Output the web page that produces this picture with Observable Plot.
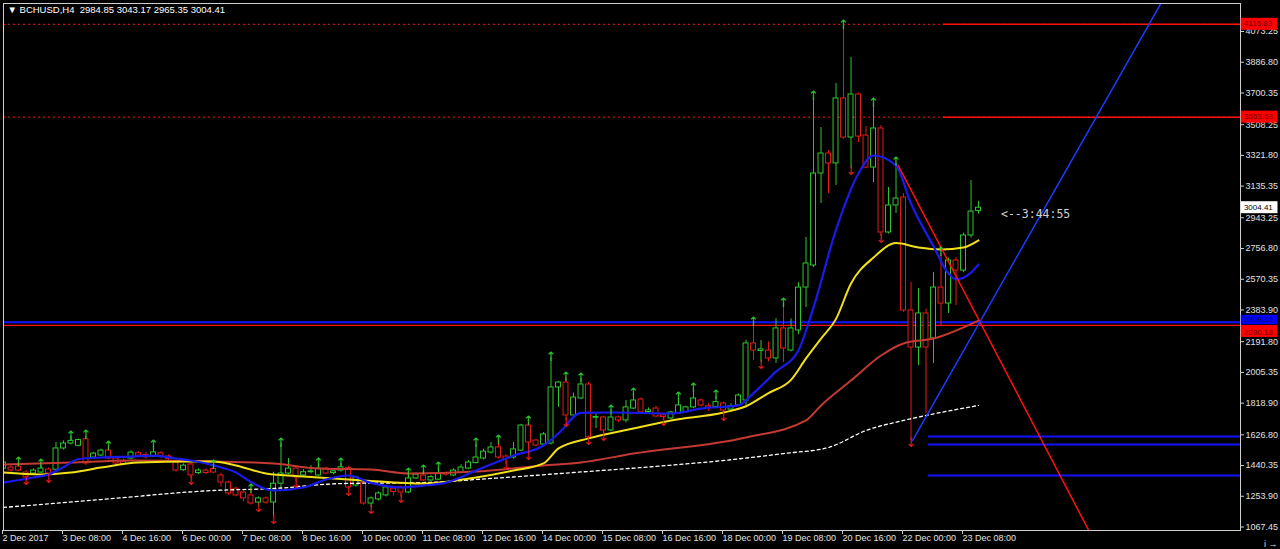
<!DOCTYPE html>
<html><head><meta charset="utf-8">
<script src="https://cdn.jsdelivr.net/npm/d3@7"></script>
<script src="https://cdn.jsdelivr.net/npm/@observablehq/plot@0.6"></script>
<style>
html,body{margin:0;padding:0;background:#000;overflow:hidden}
</style></head><body><div id="chart"></div>
<script>
// ---------- DATA (BCHUSD, H4, bar 0 = 2 Dec 2017 00:00) ----------
const symbol = "BCHUSD,H4";
const lastOHLC = [2984.85, 3043.17, 2965.35, 3004.41];
const countdown = "<--3:44:55";

const opens = [1422,1428,1434,1398,1392,1398,1416,1415,1544,1574,1560,1600,1489,1501,1531,1483,1465,1483,1515,1505,
1495,1515,1495,1459,1412,1447,1395,1410,1420,1380,1337,1300,1277,1259,1216,1241,1216,1330,1392,1422,
1380,1400,1380,1422,1395,1410,1425,1319,1337,1210,1235,1259,1300,1307,1277,1362,1380,1350,1355,1395,
1380,1395,1422,1455,1483,1519,1550,1495,1489,1531,1683,1592,1568,1574,1914,1944,1744,1847,1932,1730,
1732,1653,1732,1714,1786,1841,1765,1786,1745,1726,1756,1765,1793,1835,1800,1795,1817,1780,1805,1835,
2181,2135,2138,2090,2272,2138,2260,2520,2654,3212,3333,3273,3667,3430,3691,3442,3248,3485,2854,3018,
3066,2381,2156,2363,2211,2520,2423,2684,2623,2836,2984.85];
const highs = [1465,1440,1455,1410,1420,1445,1425,1580,1590,1615,1600,1620,1520,1540,1555,1495,1480,1530,1525,1520,
1560,1525,1505,1470,1450,1455,1420,1420,1440,1395,1345,1310,1285,1290,1250,1250,1400,1574,1483,1430,
1415,1440,1450,1430,1420,1450,1435,1375,1345,1250,1280,1320,1310,1315,1390,1395,1410,1380,1425,1400,
1420,1445,1470,1570,1540,1580,1592,1505,1580,1690,1705,1600,1640,2095,1950,1974,1880,1968,1945,1756,
1740,1774,1740,1835,1877,1850,1790,1800,1755,1770,1850,1800,1905,1845,1815,1860,1825,1815,1875,2200,
2302,2199,2190,2332,2423,2330,2550,2824,3673,3491,3351,3758,4105,3916,3700,3497,3636,3503,3127,3273,
3090,2551,2514,2390,2611,2727,2700,2702,2850,3169,3043.17];
const lows = [1416,1400,1404,1362,1385,1392,1374,1405,1535,1565,1555,1440,1480,1495,1475,1445,1440,1475,1490,1480,
1490,1485,1470,1400,1405,1362,1385,1385,1390,1310,1260,1250,1220,1200,1195,1205,1125,1300,1385,1340,
1370,1390,1375,1385,1385,1400,1295,1310,1200,1185,1225,1250,1255,1250,1270,1355,1345,1340,1350,1375,
1375,1390,1415,1450,1475,1510,1480,1450,1480,1525,1510,1555,1560,1565,1793,1714,1740,1840,1600,1665,
1630,1645,1700,1700,1780,1750,1755,1730,1715,1720,1750,1760,1785,1795,1770,1790,1750,1770,1800,1805,
2077,2065,2070,2060,2065,2130,2235,2399,2640,3030,3090,3139,3420,3242,3400,3240,3157,2830,2845,2970,
2370,1592,2047,1756,2059,2290,2363,2411,2610,2820,2965.35];
const closes = [1459,1410,1410,1368,1410,1422,1392,1544,1574,1590,1595,1453,1513,1531,1483,1453,1450,1519,1500,1490,
1520,1495,1480,1410,1440,1380,1410,1395,1398,1337,1271,1259,1241,1210,1241,1216,1330,1392,1422,1368,
1400,1405,1422,1392,1405,1430,1307,1368,1210,1241,1271,1307,1280,1277,1362,1385,1350,1370,1392,1385,
1410,1428,1459,1489,1525,1550,1489,1480,1538,1683,1580,1562,1629,1914,1944,1744,1853,1932,1611,1735,
1653,1732,1714,1793,1835,1762,1775,1738,1735,1762,1805,1793,1847,1805,1790,1825,1774,1800,1865,2181,
2138,2145,2090,2272,2150,2272,2520,2666,3212,3333,3273,3667,3430,3691,3436,3248,3485,2854,3018,3060,
2381,2156,2363,2156,2520,2423,2684,2623,2836,2981,3004.41];

// fractal arrows (bar indices)
const fractalUp = [2,5,9,11,14,20,28,33,37,42,45,54,56,58,63,66,70,73,75,77,81,84,90,92,95,100,104,108,112,116,119,125];
const fractalDown = [3,6,25,34,36,39,46,49,53,67,70,75,78,80,88,96,101,113,117,121];

// moving averages: [bar, price]
const maBlue = [[0,1337],[4,1368],[6,1386],[8,1430],[10,1480],[13,1489],[17,1495],[20,1501],[23,1483],[25,1471],[28,1441],[31,1398],[33,1340],[36,1289],[40,1307],[43,1356],[46,1380],[49,1335],[53,1307],[56,1319],[59,1337],[63,1410],[68,1501],[72,1562],[74,1635],[77,1760],[81,1762],[89,1756],[93,1786],[98,1805],[100,1880],[103,2010],[106,2140],[108,2400],[111,2870],[114,3212],[116,3321],[119,3260],[121,3030],[124,2770],[126,2605],[127,2570],[129,2611],[130,2660]];
const maYellow = [[0,1398],[5,1386],[9,1398],[13,1428],[18,1459],[25,1465],[28,1465],[31,1441],[35,1392],[40,1374],[48,1350],[56,1331],[63,1368],[68,1410],[72,1453],[74,1544],[78,1605],[84,1665],[89,1714],[96,1762],[99,1800],[102,1880],[105,1960],[107,2090],[109,2210],[111,2330],[113,2545],[116,2702],[119,2790],[122,2763],[125,2751],[128,2763],[130,2806]];
const maRed = [[0,1447],[9,1459],[17,1471],[28,1465],[36,1453],[42,1422],[49,1416],[54,1392],[63,1404],[72,1441],[77,1459],[84,1513],[99,1611],[107,1714],[109,1805],[113,1956],[117,2108],[120,2181],[124,2211],[130,2320]];
const maWhite = [[0,1186],[13,1234],[28,1289],[36,1301],[45,1331],[56,1337],[65,1362],[76,1398],[85,1428],[96,1471],[104,1513],[110,1550],[115,1653],[120,1714],[123,1744],[130,1805]];

// horizontal levels
const resistanceLevels = [4116.83, 3553.63];
const blueLevel = 2309.12;
const redLevel = 2290.18;
const supportLevels = [1616.5, 1568, 1380];
// trend lines: [bar, price] endpoints
const redTrend = [[119.3, 3260], [145, 1020]];
const blueTrend = [[121.2, 1592], [154.3, 4243]];

// axis ticks
const yTicks = [4073.25,3886.80,3700.35,3508.25,3321.80,3135.35,2943.25,2756.80,2570.35,2383.90,2191.80,2005.35,1818.90,1626.80,1440.35,1253.90,1067.45];
const xTickBars = [0,8,16,24,32,40,48,56,64,72,80,88,96,104,112,120,128];
const xTickLabels = ["2 Dec 2017","3 Dec 08:00","4 Dec 16:00","6 Dec 00:00","7 Dec 08:00","8 Dec 16:00","10 Dec 00:00","11 Dec 08:00","12 Dec 16:00","14 Dec 00:00","15 Dec 08:00","16 Dec 16:00","18 Dec 00:00","19 Dec 08:00","20 Dec 16:00","22 Dec 00:00","23 Dec 08:00"];

// ---------- CHART ----------
const GREEN = "#2ec62e", RED = "#e41a1a", BLUE = "#1414ff", LINE_RED = "#ff1010";
const xMax = 164.93;
const yDomain = [1046.3, 4243.1];
const candles = opens.map((o, i) => ({i, o, h: highs[i], l: lows[i], c: closes[i], up: closes[i] >= o}));
const col = d => d.up ? GREEN : RED;
const pxY = 6.066; // price per pixel, for label box layout
// shift: label centre offset in pixels (positive = up); up/dn: box extent in pixels
const boxes = [
  {p: resistanceLevels[0], bg: "#ff0000", fg: "#6a0000", shift: 1, up: 6, dn: 6},
  {p: resistanceLevels[1], bg: "#ff0000", fg: "#6a0000", shift: 1, up: 6, dn: 6},
  {p: lastOHLC[3], bg: "#ffffff", fg: "#000000", shift: 0, up: 6, dn: 6},
  {p: redLevel, bg: "#ff0000", fg: "#6a0000", shift: -6.5, up: 0, dn: 12},
  {p: blueLevel, bg: "#0000ff", fg: "#00006a", shift: 3, up: 7, dn: 2.5}
];
const nb = "\u00a0";
const header = "\u25BC " + symbol + nb + nb + lastOHLC.map(v => v.toFixed(2)).join(" ");

const chart = Plot.plot({
  width: 1280, height: 549,
  marginTop: 3, marginLeft: 3, marginRight: 40, marginBottom: 19,
  style: {background: "#000", color: "#e0e0e0", fontFamily: "Liberation Sans, Arial, sans-serif", fontSize: "9px"},
  x: {domain: [0, xMax]},
  y: {domain: yDomain},
  marks: [
    Plot.ruleY(resistanceLevels, {stroke: LINE_RED, strokeDasharray: "2,3", strokeWidth: 1}),
    Plot.ruleY(resistanceLevels, {x1: 125.3, x2: xMax, stroke: LINE_RED, strokeWidth: 1.5}),
    Plot.ruleY([blueLevel], {stroke: BLUE, strokeWidth: 2}),
    Plot.ruleY([redLevel], {stroke: LINE_RED, strokeWidth: 1.2}),
    Plot.ruleY(supportLevels, {x1: 123.3, x2: xMax, stroke: BLUE, strokeWidth: 2}),
    Plot.ruleX(candles, {x: "i", y1: "l", y2: "h", stroke: col, strokeWidth: 1, clip: true}),
    Plot.rect(candles, {x1: d => d.i - 0.33, x2: d => d.i + 0.33, y1: "o", y2: "c", fill: "#000", stroke: col, strokeWidth: 1, clip: true}),
    Plot.line(maWhite, {x: d => d[0], y: d => d[1], stroke: "#ffffff", strokeWidth: 1.3, strokeDasharray: "3,3", curve: "monotone-x", clip: true}),
    Plot.line(maRed, {x: d => d[0], y: d => d[1], stroke: "#c23a32", strokeWidth: 2, curve: "monotone-x", clip: true}),
    Plot.line(maYellow, {x: d => d[0], y: d => d[1], stroke: "#f2e01a", strokeWidth: 2, curve: "monotone-x", clip: true}),
    Plot.line(maBlue, {x: d => d[0], y: d => d[1], stroke: "#1a1aee", strokeWidth: 2.2, curve: "monotone-x", clip: true}),
    Plot.line(redTrend, {x: d => d[0], y: d => d[1], stroke: LINE_RED, strokeWidth: 1.5, clip: true}),
    Plot.line(blueTrend, {x: d => d[0], y: d => d[1], stroke: "#1a3cff", strokeWidth: 1.5, clip: true}),
    Plot.text(fractalUp, {x: d => d, y: d => highs[d], text: () => "\u2191", fill: GREEN, fontSize: 13, fontFamily: "DejaVu Sans, sans-serif", lineAnchor: "bottom", dy: 3, clip: true}),
    Plot.text(fractalDown, {x: d => d, y: d => lows[d], text: () => "\u2193", fill: RED, fontSize: 13, fontFamily: "DejaVu Sans, sans-serif", lineAnchor: "top", dy: -3, clip: true}),
    Plot.text([countdown], {x: 133, y: 2963, text: d => d, textAnchor: "start", fill: "#d0d0d0", fontSize: 11.5, fontFamily: "DejaVu Sans Mono, monospace"}),
    Plot.text([header], {frameAnchor: "top-left", dx: 4, dy: 3, text: d => d, fill: "#ffffff", fontSize: 9.5}),
    Plot.frame({stroke: "#cfcfcf", strokeWidth: 1}),
    Plot.axisY({anchor: "right", ticks: yTicks, tickFormat: d => d.toFixed(2), tickSize: 3, tickPadding: 2, stroke: "#cfcfcf", fill: "#e0e0e0", fontSize: 9}),
    Plot.axisX({ticks: xTickBars, tickFormat: d => xTickLabels[xTickBars.indexOf(d)], tickSize: 4, tickPadding: 0, textAnchor: "start", dx: -1, stroke: "#cfcfcf", fill: "#e0e0e0", fontSize: 9}),
    Plot.rect(boxes, {x1: xMax + 0.1, x2: xMax + 5, y1: d => d.p - d.dn * pxY, y2: d => d.p + d.up * pxY, fill: d => d.bg}),
    Plot.text(boxes, {x: xMax + 0.45, y: d => d.p + d.shift * pxY, text: d => d.p.toFixed(2), fill: d => d.fg, textAnchor: "start", fontSize: 8})
  ]
});
document.getElementById("chart").appendChild(chart);
</script>
</body></html>
